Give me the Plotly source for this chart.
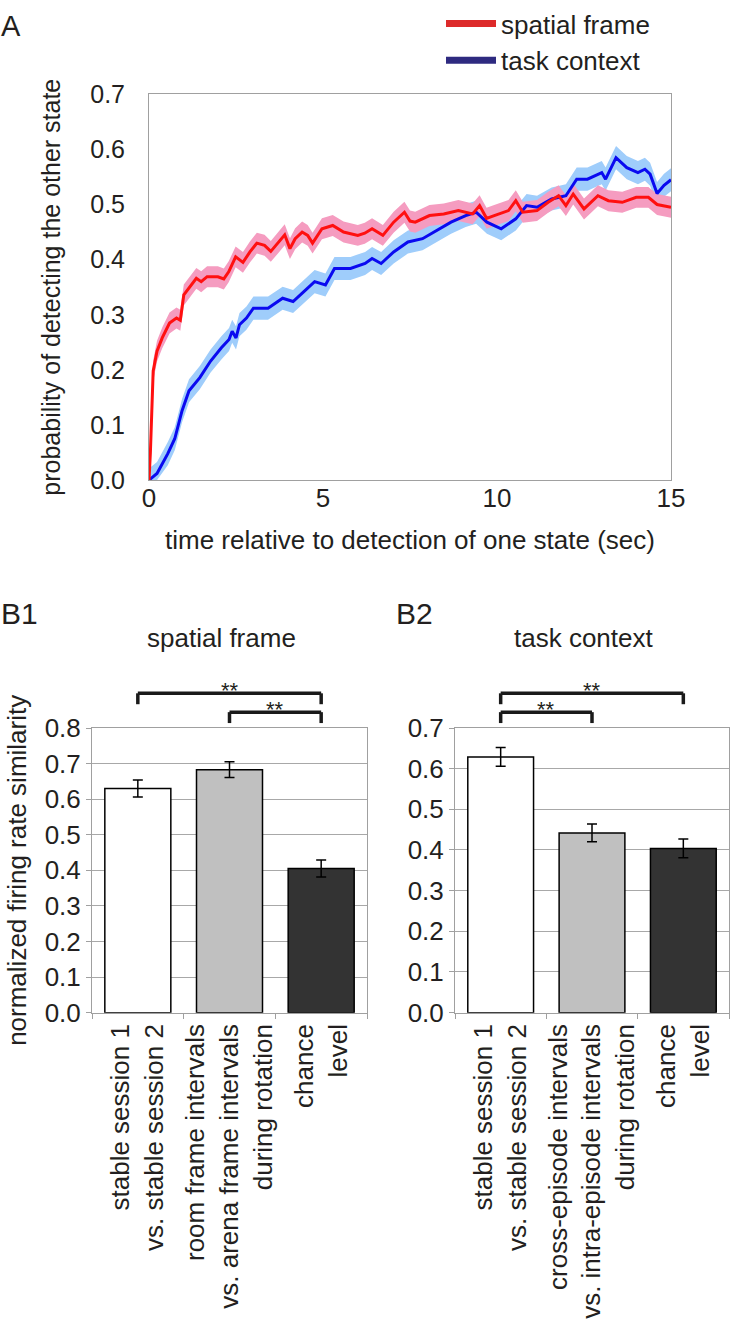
import plotly.graph_objects as go

# ---------------- Panel A data ----------------
red_t = [0, 0.04, 0.12, 0.23, 0.38, 0.59, 0.79, 0.9, 1.0, 1.15, 1.36, 1.5, 1.67, 1.98, 2.15, 2.29, 2.49, 2.7, 2.9,
         3.1, 3.32, 3.5, 3.73, 3.9, 4.05, 4.2, 4.4, 4.56, 4.7, 4.97, 5.28, 5.59, 6.0, 6.2, 6.41, 6.72, 7.03, 7.34,
         7.5, 7.65, 8.06, 8.47, 8.89, 9.3, 9.5, 9.7, 9.92, 10.33, 10.54, 10.74, 11.15, 11.47, 11.77, 11.98,
         12.19, 12.5, 12.9, 13.2, 13.6, 14.0, 14.35, 14.6, 15.0]
red_p = [0, 0.05, 0.198, 0.234, 0.258, 0.285, 0.294, 0.29, 0.336, 0.348, 0.366, 0.36, 0.369, 0.369, 0.365, 0.378,
         0.405, 0.395, 0.414, 0.43, 0.426, 0.415, 0.432, 0.445, 0.42, 0.438, 0.45, 0.444, 0.43, 0.456, 0.462,
         0.45, 0.444, 0.448, 0.456, 0.444, 0.468, 0.486, 0.47, 0.468, 0.48, 0.483, 0.489, 0.483, 0.498, 0.475,
         0.48, 0.489, 0.507, 0.486, 0.489, 0.504, 0.516, 0.498, 0.519, 0.492, 0.516, 0.507, 0.504, 0.513, 0.513,
         0.50, 0.495]
red_sem = 0.019

blue_t = [0, 0.23, 0.54, 0.74, 0.95, 1.15, 1.46, 1.77, 2.08, 2.3, 2.39, 2.5, 2.6, 2.8, 3.0, 3.42, 3.84, 4.14,
          4.45, 4.76, 5.07, 5.33, 5.79, 6.21, 6.41, 6.67, 7.03, 7.44, 7.86, 8.27, 8.68, 9.1, 9.4, 9.71, 10.12,
          10.54, 10.85, 11.15, 11.57, 11.98, 12.29, 12.6, 13.01, 13.12, 13.42, 13.73, 14.05, 14.25, 14.4,
          14.6, 14.8, 15.0]
blue_p = [0, 0.012, 0.048, 0.075, 0.126, 0.162, 0.186, 0.216, 0.24, 0.255, 0.27, 0.258, 0.282, 0.294, 0.312,
          0.312, 0.33, 0.324, 0.342, 0.36, 0.354, 0.384, 0.384, 0.393, 0.402, 0.393, 0.414, 0.432, 0.438, 0.453,
          0.468, 0.48, 0.486, 0.468, 0.456, 0.474, 0.498, 0.495, 0.51, 0.516, 0.546, 0.546, 0.558, 0.546, 0.585,
          0.567, 0.558, 0.564, 0.555, 0.52, 0.535, 0.545]
blue_sem = 0.021

series_names = ["spatial frame", "task context"]

# ---------------- Panel B data ----------------
b1_cats = ["stable session 1<br>vs. stable session 2",
           "room frame intervals<br>vs. arena frame intervals<br>during rotation",
           "chance<br>level"]
b1_vals = [0.63, 0.683, 0.405]
b1_err = [0.024, 0.022, 0.024]

b2_cats = ["stable session 1<br>vs. stable session 2",
           "cross-episode intervals<br>vs. intra-episode intervals<br>during rotation",
           "chance<br>level"]
b2_vals = [0.629, 0.442, 0.404]
b2_err = [0.023, 0.022, 0.023]

bar_colors = ["#ffffff", "#c0c0c0", "#333333"]

# ---------------- Layout helpers (pixel -> paper) ----------------
W, H = 747, 1329
def px(x):
    return x / W
def py(y):
    return 1 - y / H

FONT = "Liberation Sans, Arial, sans-serif"
TXT = "#231f20"
GRAY = "#a0a0a0"

fig = go.Figure()

def band(t, p, sem, color, axes):
    up = [v + sem for v in p]
    lo = [max(v - sem, 0) for v in p]
    return go.Scatter(x=list(t) + list(t)[::-1], y=up + lo[::-1], fill="toself", fillcolor=color,
                      line=dict(width=0), mode="lines", hoverinfo="skip", showlegend=False,
                      xaxis=axes[0], yaxis=axes[1])

fig.add_trace(band(blue_t, blue_p, blue_sem, "#9fcdfb", ("x", "y")))
fig.add_trace(band(red_t, red_p, red_sem, "#f59cc0", ("x", "y")))
fig.add_trace(go.Scatter(x=blue_t, y=blue_p, mode="lines", line=dict(color="#0a0af0", width=3),
                         showlegend=False, xaxis="x", yaxis="y"))
fig.add_trace(go.Scatter(x=red_t, y=red_p, mode="lines", line=dict(color="#ff1010", width=3),
                         showlegend=False, xaxis="x", yaxis="y"))
# legend entries
fig.add_trace(go.Scatter(x=[None], y=[None], mode="lines", line=dict(color="#dd2a2a", width=7),
                         name=series_names[0], xaxis="x", yaxis="y"))
fig.add_trace(go.Scatter(x=[None], y=[None], mode="lines", line=dict(color="#2e2a80", width=7),
                         name=series_names[1], xaxis="x", yaxis="y"))

# bars
fig.add_trace(go.Bar(x=b1_cats, y=b1_vals, marker=dict(color=bar_colors, line=dict(color="black", width=1.5)),
                     error_y=dict(type="data", array=b1_err, color="black", thickness=1.5, width=5),
                     showlegend=False, xaxis="x2", yaxis="y2"))
fig.add_trace(go.Bar(x=b2_cats, y=b2_vals, marker=dict(color=bar_colors, line=dict(color="black", width=1.5)),
                     error_y=dict(type="data", array=b2_err, color="black", thickness=1.5, width=5),
                     showlegend=False, xaxis="x3", yaxis="y3"))

def common(size):
    return dict(showline=True, linecolor=GRAY, linewidth=1, mirror=True, zeroline=False,
                automargin=False, tickfont=dict(family=FONT, size=size, color=TXT))

yB_dom = [py(1010), py(723)]

fig.update_layout(
    width=W, height=H, margin=dict(l=0, r=0, t=0, b=0),
    paper_bgcolor="white", plot_bgcolor="white",
    font=dict(family=FONT, color=TXT),
    bargap=0.28,
    showlegend=True,
    legend=dict(x=px(441), y=py(-11), xanchor="left", yanchor="top", bgcolor="rgba(0,0,0,0)",
                font=dict(family=FONT, size=26, color=TXT), itemwidth=50, tracegroupgap=0),
    xaxis=dict(domain=[px(149), px(671)], anchor="y", range=[0, 15], tickvals=[0, 5, 10, 15],
               showgrid=False, ticks="", ticklabelstandoff=-5,
               title=dict(text="time relative to detection of one state (sec)",
                          font=dict(family=FONT, size=26, color=TXT), standoff=18),
               **common(26)),
    yaxis=dict(domain=[py(473), py(84)], anchor="x", range=[0, 0.7], dtick=0.1, tickformat=".1f",
               showgrid=False, ticks="", ticklabelstandoff=18,
               title=dict(text="probability of detecting the other state",
                          font=dict(family=FONT, size=25, color=TXT), standoff=22),
               **common(25)),
    xaxis2=dict(domain=[px(92), px(367)], anchor="y2", type="category", tickangle=-90,
                ticks="outside", tickson="boundaries", ticklen=5, tickcolor=GRAY, showgrid=False,
                **common(26)),
    yaxis2=dict(domain=yB_dom, anchor="x2", range=[0, 0.8], dtick=0.1, tickformat=".1f",
                ticks="outside", ticklen=5, tickcolor=GRAY, showgrid=True, gridcolor="#a8a8a8",
                title=dict(text="normalized firing rate similarity",
                           font=dict(family=FONT, size=26, color=TXT), standoff=10),
                **common(26)),
    xaxis3=dict(domain=[px(455), px(729)], anchor="y3", type="category", tickangle=-90,
                ticks="outside", tickson="boundaries", ticklen=5, tickcolor=GRAY, showgrid=False,
                **common(26)),
    yaxis3=dict(domain=yB_dom, anchor="x3", range=[0, 0.7], dtick=0.1, tickformat=".1f",
                ticks="outside", ticklen=5, tickcolor=GRAY, showgrid=True, gridcolor="#a8a8a8",
                **common(26)),
)

# significance brackets (layout decorations)
def bracket(xref, i0, i1, ytop, yleg):
    s = dict(type="line", xref=xref, yref="paper", line=dict(color="#1a1a1a", width=3.5))
    return [dict(s, x0=i0, x1=i1, y0=py(ytop), y1=py(ytop)),
            dict(s, x0=i0, x1=i0, y0=py(ytop), y1=py(yleg)),
            dict(s, x0=i1, x1=i1, y0=py(ytop), y1=py(yleg))]

shapes = []
shapes += bracket("x2", 0, 2, 688, 699)
shapes += bracket("x2", 1, 2, 707, 718)
shapes += bracket("x3", 0, 2, 688, 699)
shapes += bracket("x3", 0, 1, 707, 718)
fig.update_layout(shapes=shapes)

ann = []
def star(xref, xc, ytop):
    return dict(text="**", xref=xref, yref="paper", x=xc, y=py(ytop + 12), yanchor="bottom", showarrow=False,
                font=dict(family=FONT, size=22, color=TXT))
ann += [star("x2", 1, 688), star("x2", 1.5, 707), star("x3", 1, 688), star("x3", 0.5, 707)]
def label(text, x, y, size, xanchor="left"):
    return dict(text=text, xref="paper", yref="paper", x=px(x), y=py(y), xanchor=xanchor, yanchor="middle",
                showarrow=False, font=dict(family=FONT, size=size, color=TXT))
ann += [label("A", -1, 15, 29), label("B1", -1, 608, 30), label("B2", 394, 608, 30),
        label("spatial frame", 221, 632, 26, "center"), label("task context", 584, 632, 26, "center")]
fig.update_layout(annotations=ann)

fig.write_html("out.html", config={"displayModeBar": False},
               post_script="document.body.style.margin='0px';")
